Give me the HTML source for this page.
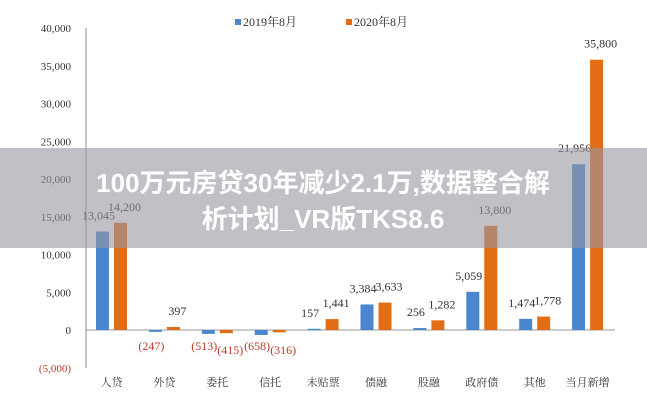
<!DOCTYPE html>
<html><head><meta charset="utf-8"><style>
body{margin:0;background:#fff;}
svg{display:block;font-family:"Liberation Serif","Noto Serif CJK SC",serif;}
</style></head><body>
<svg width="647" height="400">
<g id="axis"></g>
<g id="bars"></g>
<g id="legend">
<rect x="235" y="19" width="6" height="6" fill="#4a86d0"/>
<text x="243" y="26" font-size="12" fill="#333">2019年8月</text>
<rect x="346" y="19" width="6" height="6" fill="#e26d14"/>
<text x="354" y="26" font-size="12" fill="#333">2020年8月</text>
</g>
<rect x="0" y="148" width="647" height="100" fill="rgba(150,150,160,0.6)"/>
<text x="323" y="192" text-anchor="middle" font-size="26" font-weight="bold" fill="#fff" style="font-family:'Liberation Sans','Noto Sans CJK SC',sans-serif">100万元房贷30年减少2.1万,数据整合解</text>
<text x="323" y="228" text-anchor="middle" font-size="26" font-weight="bold" fill="#fff" style="font-family:'Liberation Sans','Noto Sans CJK SC',sans-serif">析计划_VR版TKS8.6</text>
</svg>
<script>
const categories=["人贷","外贷","委托","信托","未贴票","债融","股融","政府债","其他","当月新增"];
const s2019=[13045,-247,-513,-658,157,3384,256,5059,1474,21956];
const s2020=[14200,397,-415,-316,1441,3633,1282,13800,1778,35800];
const ticks=[-5000,0,5000,10000,15000,20000,25000,30000,35000,40000];
const NS="http://www.w3.org/2000/svg";
const y=v=>330-v*(302/40000);
const cx=i=>111.5+52.9*i;
const fmt=v=>v<0?"("+Math.abs(v).toLocaleString("en-US")+")":v.toLocaleString("en-US");
function mk(t,a,p){const e=document.createElementNS(NS,t);for(const k in a)e.setAttribute(k,a[k]);p.appendChild(e);return e;}
const ax=document.getElementById("axis"),bars=document.getElementById("bars");
const al=mk("line",{x1:86,x2:86,y1:28,y2:368,stroke:"#888"},ax);


const zl=mk("line",{x1:86,x2:615,y1:y(0),y2:y(0),stroke:"#999"},ax);


ticks.forEach(t=>{const e=mk("text",{x:71,y:y(t)+4,"text-anchor":"end","font-size":11,fill:t<0?"#c0392b":"#333"},ax);e.textContent=fmt(t);

});
categories.forEach((c,i)=>{
const t=mk("text",{x:cx(i),y:386,"text-anchor":"middle","font-size":11,fill:"#333"},ax);t.textContent=c;


[[s2019[i],"#4a86d0",-15.5],[s2020[i],"#e26d14",2.5]].forEach(([v,col,off],k)=>{
const x=cx(i)+off;const top=Math.min(y(v),y(0));const h=Math.max(Math.abs(y(v)-y(0)),1.5);
const r=mk("rect",{x:x,y:top,width:13,height:h,fill:col},bars);


const l=mk("text",{x:x+6.5+(k?4:-4),y:v<0?y(0)+20+k*4:y(v)-12,"text-anchor":"middle","font-size":12,fill:v<0?"#c0392b":"#333"},bars);l.textContent=fmt(v);


});});
</script>
</body></html>
